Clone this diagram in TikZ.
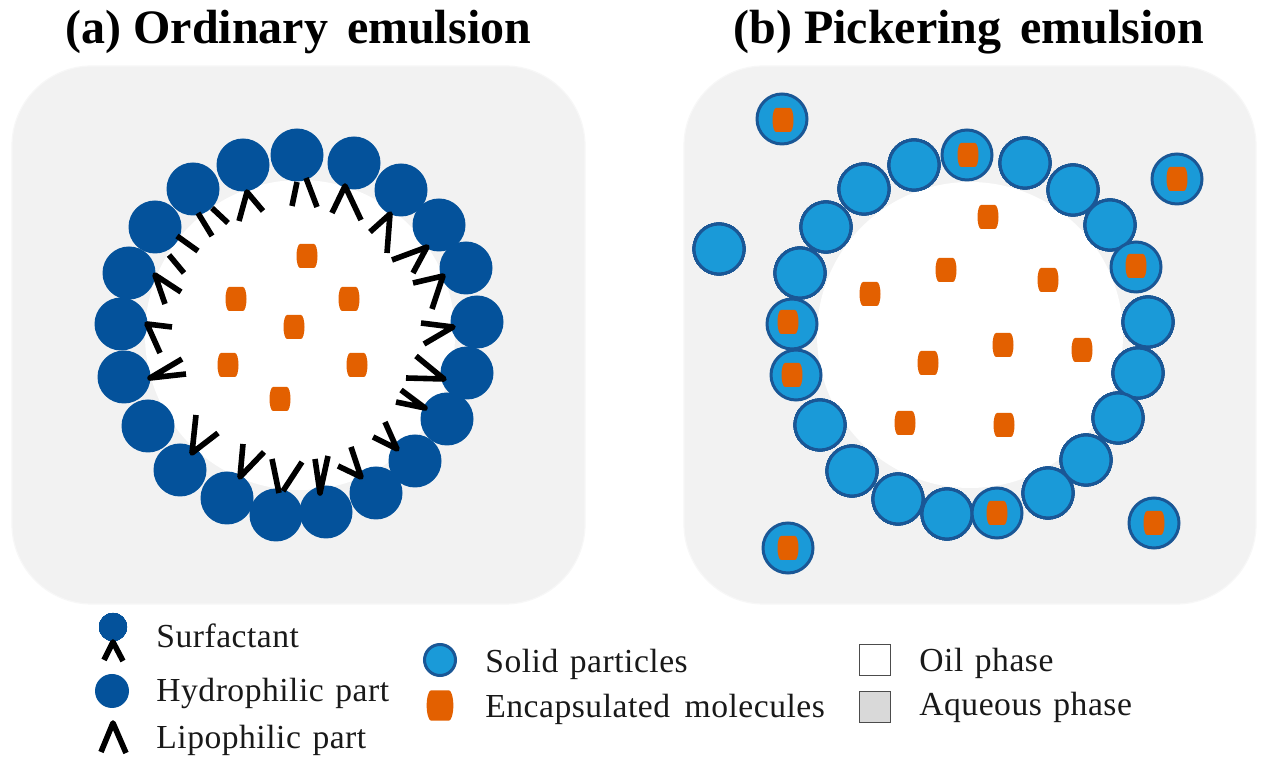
\documentclass[tikz,border=0pt]{standalone}
\usepackage{fontspec}
\setmainfont{Liberation Serif}
\newfontfamily\headfont{Liberation Serif Bold}
\newfontfamily\legfont[WordSpace=1.3,LetterSpace=1.5]{Liberation Serif}
\definecolor{panel}{HTML}{F2F2F2}
\definecolor{headblue}{HTML}{04529B}
\definecolor{solidblue}{HTML}{1A9AD8}
\definecolor{rimblue}{HTML}{1A5796}
\definecolor{cargo}{HTML}{E36000}
\begin{document}
\begin{tikzpicture}[x=0.5pt,y=-0.5pt,
  phase/.style={draw=panel!60!white,line width=0.6pt,fill=panel,rounded corners=40pt},
  oilcore/.style={circle,fill=white,draw=none,inner sep=0pt,minimum size=#1*1pt},
  headball/.style={circle,fill=headblue,draw=none,inner sep=0pt,minimum size=26.5pt},
  legball/.style={circle,fill=headblue,draw=none,inner sep=0pt,minimum size=#1*1pt},
  solidball/.style={circle,fill=solidblue,draw=rimblue,line width=1.5pt,inner sep=0pt,minimum size=25pt},
  legsolid/.style={circle,fill=solidblue,draw=rimblue,line width=1.5pt,inner sep=0pt,minimum size=15.5pt},
  tail/.style={draw=black,line width=2.8pt,line cap=butt,line join=round},
  cargoshape/.style={fill=cargo,draw=none},
  swatch/.style={draw=black!70,line width=0.4pt,inner sep=0pt,minimum size=15.5pt},
  heading/.style={anchor=base west,inner sep=0pt,font=\fontsize{24}{27}\headfont},
  legtext/.style={anchor=base west,inner sep=0pt,font=\fontsize{16.8}{19}\legfont,text=black!90}]
\useasboundingbox (0,0) rectangle (1264,763);
\fill[white] (0,0) rectangle (1264,763);
\newcommand{\cargoat}[3][1]{\fill[cargoshape,shift={(#2,#3)},scale=#1]
  (-7,-12) -- (7,-12) .. controls (9,-12) and (10.5,-6) .. (10.5,0) .. controls (10.5,6) and (9,12) .. (7,12)
  -- (-7,12) .. controls (-9,12) and (-10.5,6) .. (-10.5,0) .. controls (-10.5,-6) and (-9,-12) .. (-7,-12) -- cycle;}
% panels
\draw[phase] (12,66) rectangle (585,604);
\draw[phase] (684,66) rectangle (1256,604);
\node[oilcore=155] (coreA) at (300,335) {};
\node[oilcore=153] (coreB) at (970,335) {};
% headings
\node[heading] (titleA) at (65,44) {(a) Ordinary\hspace{3.5pt} emulsion};
\node[heading] (titleB) at (733,44) {(b) Pickering\hspace{3.5pt} emulsion};
% surfactant heads
\foreach \x/\y [count=\i] in {297/155,243/165,193/189,155/227,129/273,121/324,124/377,148/426,180/470,227/498,276/515,326/512,376/493,415/461,447/419,467/373,477/322,466/268,439/225,401/190,354/163}
  \node[headball] (h\i) at (\x,\y) {};
% surfactant tails
\foreach \ax/\ay/\bx/\by/\cx/\cy in {
  247/192/239/221/263/211,
  155/275/165/304/181/292,
  147/324/172/327/160/353,
  150/378/182/359/186/374,
  192/453/196/415/218/433,
  240/477/243/444/264/452,
  320/493/315/459/328/456,
  361/477/338/466/351/447,
  397/449/373/437/385/422,
  425/408/396/402/401/390,
  444/379/406/378/416/356,
  453/327/421/323/424/344,
  443/276/413/283/432/309,
  427/247/392/260/413/273,
  390/214/370/232/387/253,
  345/186/332/213/361/220}
  \draw[tail] (\bx,\by) -- (\ax,\ay) -- (\cx,\cy);
\foreach \ax/\ay/\bx/\by in {
  198/213/212/236, 212/208/228/223, 177/236/198/251, 169/255/184/273,
  297/182/292/206, 306/178/317/207, 279/493/272/459, 283/491/302/462}
  \draw[tail] (\ax,\ay) -- (\bx,\by);
% cargo A
\foreach \x/\y in {307/256,236/299,349/299,294/327,228/365,357/365,280/399}
  \cargoat{\x}{\y}
% particles
\foreach \x/\y [count=\i] in {914/165,1025/163,1073/190,1110/225,1148/322,1138/373,1118/418,1086/460,1048/493,947/514,898/499,852/471,820/425,800/273,826/227,864/189,719/249}
  \node[solidball] (p\i) at (\x,\y) {};
\foreach \x/\y/\u/\v [count=\i] in {782/119/783/120,967/155/968/155,1136/267/1136/266,997/513/997/513,796/375/792/375,792/324/788/322,1177/179/1177/179,788/548/788/548,1154/523/1154/523}{
  \node[solidball] (q\i) at (\x,\y) {};
  \cargoat{\u}{\v}
}
% cargo B
\foreach \x/\y in {988/217,946/270,1048/280,870/294,1003/345,1082/350,928/363,905/423,1004/425}
  \cargoat{\x}{\y}
% legend left
\node[legball=14] (legS) at (113,627) {};
\draw[tail] (104,660) -- (113,642) -- (123,661);
\node[legball=17] (legH) at (112,691) {};
\draw[tail] (101,752) -- (113,723) -- (126,753);
\node[legtext] (tS) at (156,648) {Surfactant};
\node[legtext] (tH) at (156,702) {Hydrophilic part};
\node[legtext] (tL) at (156,749) {Lipophilic part};
% legend middle
\node[legsolid] (legP) at (440,660) {};
\cargoat[1.27]{440}{705.5}
\node[legtext] (tP) at (485,673) {Solid particles};
\node[legtext] (tE) at (485,718) {Encapsulated\hspace{1.5pt} molecules};
% legend right
\node[swatch,fill=white] (legO) at (875,660) {};
\node[swatch,fill=black!15] (legA) at (875,707) {};
\node[legtext] (tO) at (919,672) {Oil phase};
\node[legtext] (tA) at (919,716) {Aqueous phase};
\end{tikzpicture}
\end{document}
